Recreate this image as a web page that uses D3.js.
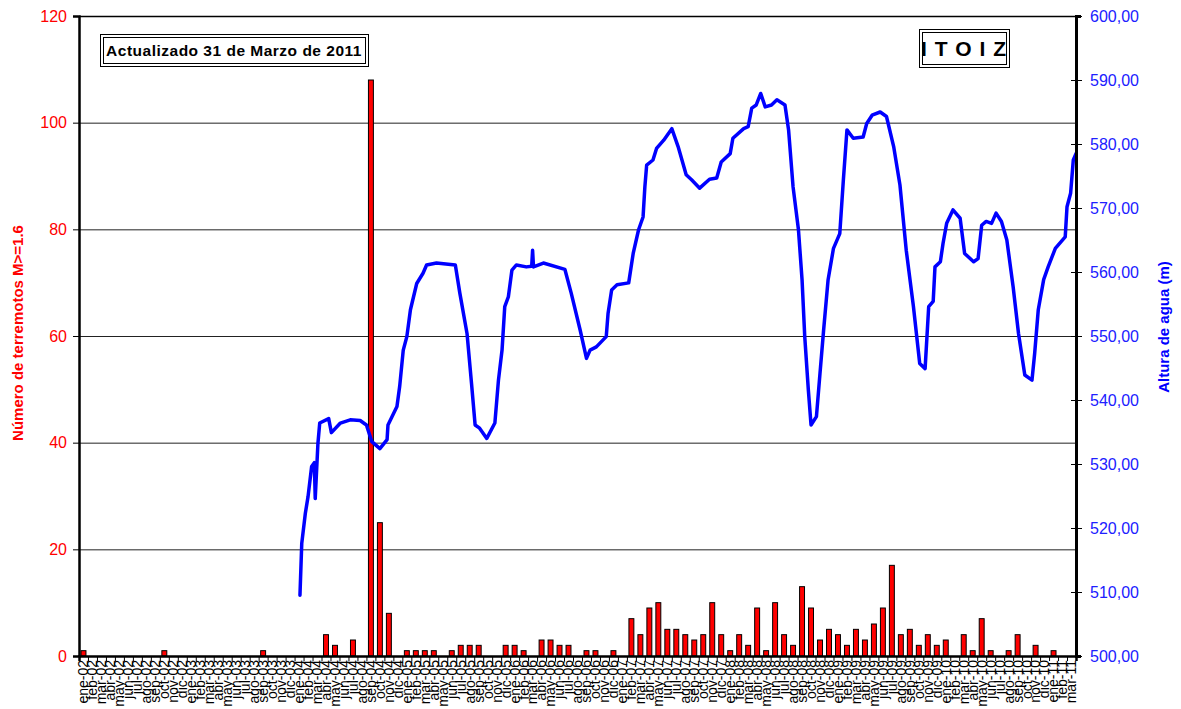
<!DOCTYPE html>
<html lang="es">
<head>
<meta charset="utf-8">
<title>Itoiz - terremotos y altura de agua</title>
<script src="https://cdn.jsdelivr.net/npm/d3@7"></script>
<style>
	body { margin: 0; background: #fff; }
	svg { font-family: "Liberation Sans", Arial, sans-serif; }
	.grid line { stroke: #222; stroke-width: 1; }
	.bar { fill: #ff0000; stroke: #000; stroke-width: 1; }
	.nivel { fill: none; stroke: #0000ff; stroke-width: 3.5; stroke-linejoin: round; stroke-linecap: round; }
</style>
</head>
<body>
<div id="chart"></div>
<script>
// month labels, ene-02 .. mar-11
var mesesNombres = ["ene","feb","mar","abr","may","jun","jul","ago","sep","oct","nov","dic"];
var anios = ["02","03","04","05","06","07","08","09","10","11"];
var meses = [];
anios.forEach(function(a) {
	mesesNombres.forEach(function(m) { meses.push(m + "-" + a); });
});
meses = meses.slice(0, 111);

// earthquakes per month (M>=1.6)
var terremotos = [
	1,0,0,0,0,0,0,0,0,1,0,0,      // 2002
	0,0,0,0,0,0,0,0,1,0,0,0,      // 2003
	0,0,0,4,2,0,3,0,108,25,8,0,   // 2004
	1,1,1,1,0,1,2,2,2,0,0,2,      // 2005
	2,1,0,3,3,2,2,0,1,1,0,1,      // 2006
	0,7,4,9,10,5,5,4,3,4,10,4,    // 2007
	1,4,2,9,1,10,4,2,13,9,3,5,    // 2008
	4,2,5,3,6,9,17,4,5,2,4,2,     // 2009
	3,0,4,1,7,1,0,1,4,0,2,0,      // 2010
	1,0,0                         // 2011
];

// water level: position in months since ene-02, and height (m)
var nivelMes = [24.6,24.8,25.2,25.5,25.9,26.2,26.3,26.6,26.8,27.8,28.1,29.1,30.2,31.3,32.0,32.6,33.5,34.3,34.4,
	35.4,35.7,36.1,36.5,36.9,37.6,38.3,38.7,39.8,41.9,42.4,43.2,43.7,44.1,44.6,45.4,46.3,46.7,47.1,47.4,47.8,
	48.2,48.7,49.8,50.4,50.5,50.6,51.7,54.1,54.8,55.8,56.5,56.9,57.6,58.7,58.9,59.3,59.9,61.2,61.7,62.3,62.8,
	63.0,63.2,63.9,64.3,65.1,66.0,66.7,67.6,68.2,69.1,70.2,71.0,71.5,72.5,72.8,74.0,74.5,74.9,75.4,75.9,76.4,
	77.1,77.7,78.6,79.0,79.5,80.1,80.5,80.8,81.2,81.5,82.1,82.5,82.9,83.4,84.0,84.7,85.1,85.5,86.2,87.3,87.7,
	88.3,89.2,89.9,90.7,91.4,92.1,92.9,93.6,94.2,94.6,95.1,95.3,95.9,96.2,96.6,97.3,98.1,98.6,99.6,100.1,100.5,
	101.0,101.6,102.1,102.7,103.3,104.0,104.6,105.3,106.1,106.4,106.8,107.4,107.9,108.7,109.8,110.0,110.4,110.7,111.0];
var nivelAltura = [509.5,517.6,522.3,524.9,529.6,530.2,524.6,533.2,536.4,537.1,534.9,536.4,536.9,536.8,536.1,533.5,532.4,533.8,536.1,
	539.0,542.1,547.8,549.9,554.1,558.2,559.8,561.1,561.4,561.1,556.7,550.4,542.6,536.1,535.6,534.0,536.4,543.1,547.8,554.6,556.1,
	560.3,561.1,560.8,560.9,563.4,560.8,561.4,560.4,556.7,550.9,546.5,547.8,548.3,549.9,553.5,557.2,558.0,558.3,562.9,566.6,568.6,
	573.3,576.7,577.5,579.3,580.6,582.4,579.6,575.2,574.4,573.1,574.5,574.7,577.2,578.5,580.9,582.4,582.7,585.6,586.1,587.9,585.8,
	586.1,586.9,586.1,582.2,573.3,566.6,558.8,549.9,541.6,536.1,537.4,544.2,550.9,558.8,563.7,566.0,574.4,582.2,580.9,581.1,583.2,
	584.5,585.0,584.3,579.6,573.6,563.4,554.6,545.7,544.9,554.6,555.4,560.8,561.6,564.5,567.6,569.7,568.4,562.9,561.6,562.1,567.3,
	567.9,567.6,569.2,567.9,565.0,557.7,550.4,543.9,543.1,547.3,554.1,558.8,560.8,563.7,565.5,570.2,572.3,577.5,578.5];

var ticksIzq = [0,20,40,60,80,100,120];
var ticksDer = [500,510,520,530,540,550,560,570,580,590,600];

var W = 1181, H = 709;
var mIzq = 79, mDer = 1076, mSup = 16, mInf = 656;

var svg = d3.select("#chart").append("svg")
	.attr("width", W)
	.attr("height", H);

var xBand = d3.scaleBand().domain(meses).range([mIzq, mDer]).paddingInner(0.45).paddingOuter(0.225);
var xMes = d3.scaleLinear().domain([0, meses.length]).range([mIzq, mDer]);
var yIzq = d3.scaleLinear().domain([0, 120]).range([mInf, mSup]);
var yDer = d3.scaleLinear().domain([500, 600]).range([mInf, mSup]);

// gridlines
svg.append("g").attr("class", "grid")
	.selectAll("line")
	.data(ticksIzq.filter(function(d) { return d > 0 && d < 120; }))
	.enter().append("line")
	.attr("x1", mIzq).attr("x2", mDer)
	.attr("y1", function(d) { return yIzq(d) + 0.5; })
	.attr("y2", function(d) { return yIzq(d) + 0.5; });

// top border
svg.append("line")
	.attr("x1", mIzq).attr("x2", mDer)
	.attr("y1", mSup + 0.5).attr("y2", mSup + 0.5)
	.attr("stroke", "#000").attr("stroke-width", 1.5);

// bars
svg.selectAll(".bar")
	.data(terremotos)
	.enter().append("rect")
	.attr("class", "bar")
	.attr("x", function(d, i) { return xBand(meses[i]); })
	.attr("y", function(d) { return yIzq(d); })
	.attr("width", xBand.bandwidth())
	.attr("height", function(d) { return mInf - yIzq(d); })
	.style("display", function(d) { return d > 0 ? null : "none"; });

// water level line
var puntos = nivelMes.map(function(m, i) { return [m, nivelAltura[i]]; });
svg.append("path")
	.datum(puntos)
	.attr("class", "nivel")
	.attr("d", d3.line()
		.x(function(d) { return xMes(d[0]); })
		.y(function(d) { return yDer(d[1]); }));

// left axis
var ejeIzq = svg.append("g")
	.attr("transform", "translate(" + mIzq + ",0)")
	.call(d3.axisLeft(yIzq).tickValues(ticksIzq).tickSize(6).tickPadding(6));
ejeIzq.select(".domain").attr("stroke-width", 2.5);
ejeIzq.selectAll("text").attr("fill", "#ff0000").style("font-size", "16px");

// right axis
var ejeDer = svg.append("g")
	.attr("transform", "translate(" + mDer + ",0)")
	.call(d3.axisRight(yDer).tickValues(ticksDer).tickSize(5).tickPadding(9)
		.tickFormat(function(d) { return d3.format(".2f")(d).replace(".", ","); }));
ejeDer.select(".domain").attr("stroke-width", 3);
ejeDer.selectAll(".tick line").attr("x1", -5).attr("x2", 6);
ejeDer.selectAll("text").attr("fill", "#2020ff").style("font-size", "16px");

// bottom axis: month boundary ticks
var ejeX = svg.append("g")
	.attr("transform", "translate(0," + mInf + ")")
	.call(d3.axisBottom(xMes).tickValues(d3.range(0, meses.length + 1)).tickSize(5).tickFormat(""));
ejeX.select(".domain").attr("stroke-width", 2.5);

// bottom axis: month labels
var ejeXl = svg.append("g")
	.attr("transform", "translate(0," + mInf + ")")
	.call(d3.axisBottom(xBand).tickSize(0));
ejeXl.select(".domain").remove();
ejeXl.selectAll("text")
	.attr("transform", "rotate(-90)")
	.attr("x", -4)
	.attr("y", 0)
	.attr("dy", "0.35em")
	.attr("text-anchor", "end")
	.attr("fill", "#000")
	.style("font-size", "14px");

// axis titles
svg.append("text")
	.attr("transform", "translate(23,333) rotate(-90)")
	.attr("text-anchor", "middle")
	.attr("fill", "#ff0000")
	.style("font-size", "15px")
	.style("font-weight", "bold")
	.text("Número de terremotos M>=1.6");

svg.append("text")
	.attr("transform", "translate(1169,327) rotate(-90)")
	.attr("text-anchor", "middle")
	.attr("fill", "#0000ff")
	.style("font-size", "15px")
	.style("font-weight", "bold")
	.text("Altura de agua (m)");

// text boxes with double border
function caja(x, y, w, h, texto, size, spacing) {
	var g = svg.append("g");
	g.append("rect").attr("x", x + 0.5).attr("y", y + 0.5).attr("width", w).attr("height", h)
		.attr("fill", "#fff").attr("stroke", "#000").attr("stroke-width", 1);
	g.append("rect").attr("x", x + 3.5).attr("y", y + 3.5).attr("width", w - 6).attr("height", h - 6)
		.attr("fill", "none").attr("stroke", "#000").attr("stroke-width", 1);
	g.append("text")
		.attr("x", x + w / 2).attr("y", y + h / 2)
		.attr("dy", "0.36em")
		.attr("text-anchor", "middle")
		.style("font-size", size + "px")
		.style("font-weight", "bold")
		.style("letter-spacing", spacing + "px")
		.text(texto);
}
caja(100, 34, 268, 32, "Actualizado 31 de Marzo de 2011", 15.5, 0.5);
caja(919, 29, 90, 38, "I T O I Z", 21, 1);
</script>
</body>
</html>
